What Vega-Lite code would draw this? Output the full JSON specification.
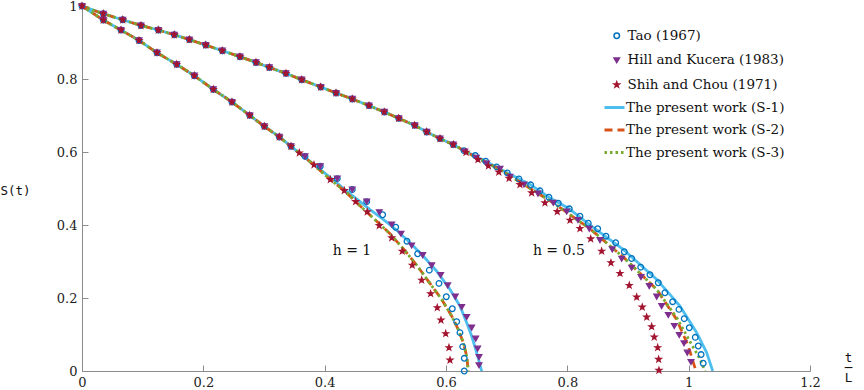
{
  "$schema": "https://vega.github.io/schema/vega-lite/v6.json",
  "autosize": {"type": "none"},
  "width": 728,
  "height": 365,
  "padding": {"left": 82, "top": 6, "right": 54, "bottom": 19},
  "background": "white",
  "config": {
    "view": {"stroke": null},
    "axis": {"grid": false, "domainColor": "#8c8c8c", "tickColor": "#8c8c8c", "domainWidth": 1, "tickWidth": 1, "tickSize": -6, "labelPadding": 11, "labelFont": "DejaVu Serif", "labelFontSize": 13, "labelColor": "#222222", "labelFlush": false, "titleFontWeight": "normal", "titleColor": "#111111"}
  },
  "datasets": {
    "pts": [
      {"s":"T","t":0,"S":1},{"s":"T","t":0.0351,"S":0.9787},{"s":"T","t":0.0671,"S":0.9622},{"s":"T","t":0.0972,"S":0.9466},{"s":"T","t":0.1258,"S":0.9341},{"s":"T","t":0.1521,"S":0.9212},{"s":"T","t":0.1769,"S":0.9079},{"s":"T","t":0.2039,"S":0.893},{"s":"T","t":0.2313,"S":0.8775},{"s":"T","t":0.2604,"S":0.8611},{"s":"T","t":0.2868,"S":0.8454},{"s":"T","t":0.3087,"S":0.8317},{"s":"T","t":0.3362,"S":0.8153},{"s":"T","t":0.3621,"S":0.7981},{"s":"T","t":0.3934,"S":0.7781},{"s":"T","t":0.4187,"S":0.7617},{"s":"T","t":0.4455,"S":0.7453},{"s":"T","t":0.4731,"S":0.727},{"s":"T","t":0.4983,"S":0.7097},{"s":"T","t":0.522,"S":0.6922},{"s":"T","t":0.5484,"S":0.673},{"s":"T","t":0.5682,"S":0.655},{"s":"T","t":0.5901,"S":0.6366},{"s":"T","t":0.612,"S":0.6202},
      {"s":"T","t":0.6296,"S":0.6038},{"s":"T","t":0.6483,"S":0.5902},{"s":"T","t":0.6654,"S":0.5746},{"s":"T","t":0.6835,"S":0.5592},{"s":"T","t":0.701,"S":0.5428},{"s":"T","t":0.7203,"S":0.5264},{"s":"T","t":0.7396,"S":0.51},{"s":"T","t":0.7549,"S":0.4936},{"s":"T","t":0.7697,"S":0.4761},{"s":"T","t":0.7851,"S":0.4596},{"s":"T","t":0.8032,"S":0.4443},{"s":"T","t":0.8208,"S":0.4241},{"s":"T","t":0.8345,"S":0.4049},{"s":"T","t":0.85,"S":0.3896},{"s":"T","t":0.8637,"S":0.3694},{"s":"T","t":0.8797,"S":0.3513},{"s":"T","t":0.8939,"S":0.3267},{"s":"T","t":0.906,"S":0.3083},{"s":"T","t":0.9209,"S":0.2845},{"s":"T","t":0.9362,"S":0.2637},{"s":"T","t":0.9499,"S":0.2419},{"s":"T","t":0.9609,"S":0.2145},{"s":"T","t":0.9736,"S":0.1899},{"s":"T","t":0.984,"S":0.1688},{"s":"T","t":0.9927,"S":0.1434},{"s":"T","t":1.001,"S":0.1187},{"s":"T","t":1.0109,"S":0.0922},{"s":"T","t":1.0158,"S":0.0684},{"s":"T","t":1.0205,"S":0.045},{"s":"T","t":1.024,"S":0.0211},
      {"s":"T","t":0.0351,"S":0.9614},{"s":"T","t":0.0643,"S":0.9341},{"s":"T","t":0.094,"S":0.9056},{"s":"T","t":0.1236,"S":0.872},{"s":"T","t":0.1561,"S":0.84},{"s":"T","t":0.1851,"S":0.8091},{"s":"T","t":0.2164,"S":0.7715},{"s":"T","t":0.2472,"S":0.737},{"s":"T","t":0.2764,"S":0.7004},{"s":"T","t":0.3005,"S":0.6703},{"s":"T","t":0.3252,"S":0.6413},{"s":"T","t":0.3445,"S":0.6156},
      {"s":"T","t":0.3676,"S":0.588},{"s":"T","t":0.3928,"S":0.561},{"s":"T","t":0.4208,"S":0.527},{"s":"T","t":0.4455,"S":0.497},{"s":"T","t":0.4693,"S":0.464},{"s":"T","t":0.4956,"S":0.428},{"s":"T","t":0.5171,"S":0.394},{"s":"T","t":0.5357,"S":0.3557},{"s":"T","t":0.5533,"S":0.3212},{"s":"T","t":0.5725,"S":0.2763},{"s":"T","t":0.5884,"S":0.24},{"s":"T","t":0.6005,"S":0.2036},{"s":"T","t":0.6104,"S":0.1707},{"s":"T","t":0.6176,"S":0.1352},{"s":"T","t":0.623,"S":0.1051},{"s":"T","t":0.6275,"S":0.0668},{"s":"T","t":0.6301,"S":0.0347},{"s":"T","t":0.6301,"S":0},

      {"s":"H","t":0,"S":1},{"s":"H","t":0.0351,"S":0.9787},{"s":"H","t":0.0671,"S":0.9622},{"s":"H","t":0.0972,"S":0.9466},{"s":"H","t":0.1258,"S":0.9341},{"s":"H","t":0.1521,"S":0.9212},{"s":"H","t":0.1769,"S":0.9079},{"s":"H","t":0.2039,"S":0.893},{"s":"H","t":0.2313,"S":0.8775},{"s":"H","t":0.2604,"S":0.8611},{"s":"H","t":0.2868,"S":0.8454},{"s":"H","t":0.3087,"S":0.8317},{"s":"H","t":0.3362,"S":0.8153},{"s":"H","t":0.3621,"S":0.7981},{"s":"H","t":0.3934,"S":0.7781},{"s":"H","t":0.4187,"S":0.7617},{"s":"H","t":0.4455,"S":0.7453},{"s":"H","t":0.4731,"S":0.727},{"s":"H","t":0.4983,"S":0.7097},{"s":"H","t":0.522,"S":0.6922},{"s":"H","t":0.5484,"S":0.673},{"s":"H","t":0.5682,"S":0.655},{"s":"H","t":0.5901,"S":0.6366},{"s":"H","t":0.612,"S":0.6202},
      {"s":"H","t":0.631,"S":0.601},{"s":"H","t":0.65,"S":0.584},{"s":"H","t":0.667,"S":0.568},{"s":"H","t":0.689,"S":0.5538},{"s":"H","t":0.7055,"S":0.5319},{"s":"H","t":0.7285,"S":0.5108},{"s":"H","t":0.7516,"S":0.4857},{"s":"H","t":0.7768,"S":0.4607},{"s":"H","t":0.7989,"S":0.4369},{"s":"H","t":0.8175,"S":0.4137},{"s":"H","t":0.8362,"S":0.3896},{"s":"H","t":0.8538,"S":0.3584},{"s":"H","t":0.8741,"S":0.333},{"s":"H","t":0.8896,"S":0.3075},{"s":"H","t":0.906,"S":0.2829},{"s":"H","t":0.9214,"S":0.2572},{"s":"H","t":0.9351,"S":0.2326},{"s":"H","t":0.9473,"S":0.2036},{"s":"H","t":0.9555,"S":0.1778},{"s":"H","t":0.9664,"S":0.1532},{"s":"H","t":0.9763,"S":0.1231},{"s":"H","t":0.9845,"S":0.0985},{"s":"H","t":0.9923,"S":0.0758},{"s":"H","t":0.9977,"S":0.0503},{"s":"H","t":1.0038,"S":0.0246},
      {"s":"H","t":0.0351,"S":0.9614},{"s":"H","t":0.0643,"S":0.9341},{"s":"H","t":0.094,"S":0.9056},{"s":"H","t":0.1236,"S":0.872},{"s":"H","t":0.1561,"S":0.84},{"s":"H","t":0.1851,"S":0.8091},{"s":"H","t":0.2164,"S":0.7715},{"s":"H","t":0.2472,"S":0.737},{"s":"H","t":0.2764,"S":0.7004},{"s":"H","t":0.3005,"S":0.6703},{"s":"H","t":0.3252,"S":0.6413},{"s":"H","t":0.3445,"S":0.6156},
      {"s":"H","t":0.3676,"S":0.588},{"s":"H","t":0.3928,"S":0.561},{"s":"H","t":0.4208,"S":0.527},{"s":"H","t":0.4455,"S":0.497},{"s":"H","t":0.4693,"S":0.464},{"s":"H","t":0.49,"S":0.435},{"s":"H","t":0.5105,"S":0.4014},{"s":"H","t":0.5258,"S":0.3759},{"s":"H","t":0.5434,"S":0.3439},{"s":"H","t":0.5616,"S":0.3174},{"s":"H","t":0.5764,"S":0.2892},{"s":"H","t":0.5912,"S":0.2627},{"s":"H","t":0.6028,"S":0.2345},{"s":"H","t":0.6153,"S":0.2036},{"s":"H","t":0.6259,"S":0.1751},{"s":"H","t":0.6341,"S":0.1477},{"s":"H","t":0.6423,"S":0.1187},{"s":"H","t":0.6489,"S":0.0886},{"s":"H","t":0.6522,"S":0.0613},{"s":"H","t":0.6544,"S":0.0383},{"s":"H","t":0.6544,"S":0.0156},

      {"s":"C","t":0,"S":1},{"s":"C","t":0.0351,"S":0.9787},{"s":"C","t":0.0671,"S":0.9622},{"s":"C","t":0.0972,"S":0.9466},{"s":"C","t":0.1258,"S":0.9341},{"s":"C","t":0.1521,"S":0.9212},{"s":"C","t":0.1769,"S":0.9079},{"s":"C","t":0.2039,"S":0.893},{"s":"C","t":0.2313,"S":0.8775},{"s":"C","t":0.2604,"S":0.8611},{"s":"C","t":0.2868,"S":0.8454},{"s":"C","t":0.3087,"S":0.8317},{"s":"C","t":0.3362,"S":0.8153},{"s":"C","t":0.3621,"S":0.7981},{"s":"C","t":0.3934,"S":0.7781},{"s":"C","t":0.4187,"S":0.7617},{"s":"C","t":0.4455,"S":0.7453},{"s":"C","t":0.4731,"S":0.727},{"s":"C","t":0.4983,"S":0.7097},{"s":"C","t":0.522,"S":0.6922},{"s":"C","t":0.5484,"S":0.673},{"s":"C","t":0.5682,"S":0.655},{"s":"C","t":0.5901,"S":0.6366},{"s":"C","t":0.612,"S":0.6202},
      {"s":"C","t":0.6329,"S":0.5992},{"s":"C","t":0.6527,"S":0.5792},{"s":"C","t":0.67,"S":0.562},{"s":"C","t":0.687,"S":0.545},{"s":"C","t":0.704,"S":0.528},{"s":"C","t":0.7219,"S":0.5108},{"s":"C","t":0.7412,"S":0.4881},{"s":"C","t":0.7631,"S":0.4607},{"s":"C","t":0.7834,"S":0.4369},{"s":"C","t":0.8044,"S":0.4131},{"s":"C","t":0.8208,"S":0.3904},{"s":"C","t":0.8385,"S":0.3622},{"s":"C","t":0.8566,"S":0.3283},{"s":"C","t":0.8719,"S":0.2966},{"s":"C","t":0.8868,"S":0.2673},{"s":"C","t":0.9021,"S":0.2345},{"s":"C","t":0.9143,"S":0.2025},{"s":"C","t":0.9235,"S":0.1751},{"s":"C","t":0.9308,"S":0.1477},{"s":"C","t":0.939,"S":0.1215},{"s":"C","t":0.9433,"S":0.093},{"s":"C","t":0.9489,"S":0.064},{"s":"C","t":0.9505,"S":0.032},{"s":"C","t":0.951,"S":0.002},
      {"s":"C","t":0.0351,"S":0.9614},{"s":"C","t":0.0643,"S":0.9341},{"s":"C","t":0.094,"S":0.9056},{"s":"C","t":0.1236,"S":0.872},{"s":"C","t":0.1561,"S":0.84},{"s":"C","t":0.1851,"S":0.8091},{"s":"C","t":0.2164,"S":0.7715},{"s":"C","t":0.2472,"S":0.737},{"s":"C","t":0.2764,"S":0.7004},{"s":"C","t":0.3005,"S":0.6703},{"s":"C","t":0.3252,"S":0.6413},{"s":"C","t":0.3445,"S":0.6156},
      {"s":"C","t":0.3582,"S":0.5975},{"s":"C","t":0.3824,"S":0.5647},{"s":"C","t":0.4093,"S":0.5245},{"s":"C","t":0.4323,"S":0.4944},{"s":"C","t":0.4511,"S":0.4643},{"s":"C","t":0.4702,"S":0.4361},{"s":"C","t":0.49,"S":0.3986},{"s":"C","t":0.5105,"S":0.365},{"s":"C","t":0.5279,"S":0.3283},{"s":"C","t":0.5444,"S":0.29},{"s":"C","t":0.5599,"S":0.249},{"s":"C","t":0.5747,"S":0.2118},{"s":"C","t":0.5856,"S":0.1735},{"s":"C","t":0.5917,"S":0.1395},{"s":"C","t":0.5995,"S":0.1023},{"s":"C","t":0.6049,"S":0.064},{"s":"C","t":0.6066,"S":0.03}
    ],
    "lns": [
      {"s":"S-1","h":"a","t":0,"S":1},{"s":"S-1","h":"a","t":0.0351,"S":0.9787},{"s":"S-1","h":"a","t":0.0671,"S":0.9622},{"s":"S-1","h":"a","t":0.0972,"S":0.9466},{"s":"S-1","h":"a","t":0.1258,"S":0.9341},{"s":"S-1","h":"a","t":0.1521,"S":0.9212},{"s":"S-1","h":"a","t":0.1769,"S":0.9079},{"s":"S-1","h":"a","t":0.2039,"S":0.893},{"s":"S-1","h":"a","t":0.2313,"S":0.8775},{"s":"S-1","h":"a","t":0.2604,"S":0.8611},{"s":"S-1","h":"a","t":0.2868,"S":0.8454},{"s":"S-1","h":"a","t":0.3087,"S":0.8317},{"s":"S-1","h":"a","t":0.3362,"S":0.8153},{"s":"S-1","h":"a","t":0.3621,"S":0.7981},{"s":"S-1","h":"a","t":0.3934,"S":0.7781},{"s":"S-1","h":"a","t":0.4187,"S":0.7617},{"s":"S-1","h":"a","t":0.4455,"S":0.7453},{"s":"S-1","h":"a","t":0.4731,"S":0.727},{"s":"S-1","h":"a","t":0.4983,"S":0.7097},{"s":"S-1","h":"a","t":0.522,"S":0.6922},{"s":"S-1","h":"a","t":0.5484,"S":0.673},{"s":"S-1","h":"a","t":0.5682,"S":0.655},{"s":"S-1","h":"a","t":0.5901,"S":0.6366},{"s":"S-1","h":"a","t":0.612,"S":0.6202},
      {"s":"S-1","h":"a","t":0.6296,"S":0.6038},{"s":"S-1","h":"a","t":0.6654,"S":0.5746},{"s":"S-1","h":"a","t":0.701,"S":0.5428},{"s":"S-1","h":"a","t":0.7396,"S":0.51},{"s":"S-1","h":"a","t":0.7697,"S":0.4761},{"s":"S-1","h":"a","t":0.8032,"S":0.4443},{"s":"S-1","h":"a","t":0.8373,"S":0.4},{"s":"S-1","h":"a","t":0.8922,"S":0.333},{"s":"S-1","h":"a","t":0.9473,"S":0.2509},{"s":"S-1","h":"a","t":0.9857,"S":0.1778},{"s":"S-1","h":"a","t":1.0132,"S":0.1051},{"s":"S-1","h":"a","t":1.0297,"S":0.0503},{"s":"S-1","h":"a","t":1.0396,"S":0},
      {"s":"S-1","h":"b","t":0,"S":1},{"s":"S-1","h":"b","t":0.0351,"S":0.9614},{"s":"S-1","h":"b","t":0.0643,"S":0.9341},{"s":"S-1","h":"b","t":0.094,"S":0.9056},{"s":"S-1","h":"b","t":0.1236,"S":0.872},{"s":"S-1","h":"b","t":0.1561,"S":0.84},{"s":"S-1","h":"b","t":0.1851,"S":0.8091},{"s":"S-1","h":"b","t":0.2164,"S":0.7715},{"s":"S-1","h":"b","t":0.2472,"S":0.737},{"s":"S-1","h":"b","t":0.2764,"S":0.7004},{"s":"S-1","h":"b","t":0.3005,"S":0.6703},{"s":"S-1","h":"b","t":0.3252,"S":0.6413},{"s":"S-1","h":"b","t":0.3445,"S":0.6156},
      {"s":"S-1","h":"b","t":0.362,"S":0.592},{"s":"S-1","h":"b","t":0.386,"S":0.561},{"s":"S-1","h":"b","t":0.41,"S":0.529},{"s":"S-1","h":"b","t":0.434,"S":0.496},{"s":"S-1","h":"b","t":0.4747,"S":0.4424},{"s":"S-1","h":"b","t":0.4967,"S":0.4151},{"s":"S-1","h":"b","t":0.5187,"S":0.3858},{"s":"S-1","h":"b","t":0.5406,"S":0.3513},{"s":"S-1","h":"b","t":0.5626,"S":0.3146},{"s":"S-1","h":"b","t":0.5846,"S":0.2736},{"s":"S-1","h":"b","t":0.6066,"S":0.2235},{"s":"S-1","h":"b","t":0.6231,"S":0.1778},{"s":"S-1","h":"b","t":0.6341,"S":0.1323},{"s":"S-1","h":"b","t":0.6423,"S":0.0958},{"s":"S-1","h":"b","t":0.6505,"S":0.0506},{"s":"S-1","h":"b","t":0.6588,"S":0},

      {"s":"S-2","h":"a","t":0,"S":1},{"s":"S-2","h":"a","t":0.0351,"S":0.9787},{"s":"S-2","h":"a","t":0.0671,"S":0.9622},{"s":"S-2","h":"a","t":0.0972,"S":0.9466},{"s":"S-2","h":"a","t":0.1258,"S":0.9341},{"s":"S-2","h":"a","t":0.1521,"S":0.9212},{"s":"S-2","h":"a","t":0.1769,"S":0.9079},{"s":"S-2","h":"a","t":0.2039,"S":0.893},{"s":"S-2","h":"a","t":0.2313,"S":0.8775},{"s":"S-2","h":"a","t":0.2604,"S":0.8611},{"s":"S-2","h":"a","t":0.2868,"S":0.8454},{"s":"S-2","h":"a","t":0.3087,"S":0.8317},{"s":"S-2","h":"a","t":0.3362,"S":0.8153},{"s":"S-2","h":"a","t":0.3621,"S":0.7981},{"s":"S-2","h":"a","t":0.3934,"S":0.7781},{"s":"S-2","h":"a","t":0.4187,"S":0.7617},{"s":"S-2","h":"a","t":0.4455,"S":0.7453},{"s":"S-2","h":"a","t":0.4731,"S":0.727},{"s":"S-2","h":"a","t":0.4983,"S":0.7097},{"s":"S-2","h":"a","t":0.522,"S":0.6922},{"s":"S-2","h":"a","t":0.5484,"S":0.673},{"s":"S-2","h":"a","t":0.5682,"S":0.655},{"s":"S-2","h":"a","t":0.5901,"S":0.6366},{"s":"S-2","h":"a","t":0.612,"S":0.6202},
      {"s":"S-2","h":"a","t":0.65,"S":0.585},{"s":"S-2","h":"a","t":0.689,"S":0.5518},{"s":"S-2","h":"a","t":0.7285,"S":0.5108},{"s":"S-2","h":"a","t":0.7768,"S":0.4607},{"s":"S-2","h":"a","t":0.8373,"S":0.3896},{"s":"S-2","h":"a","t":0.8922,"S":0.312},{"s":"S-2","h":"a","t":0.9473,"S":0.2235},{"s":"S-2","h":"a","t":0.9802,"S":0.1415},{"s":"S-2","h":"a","t":0.9993,"S":0.0684},{"s":"S-2","h":"a","t":1.012,"S":0},
      {"s":"S-2","h":"b","t":0,"S":1},{"s":"S-2","h":"b","t":0.0351,"S":0.9614},{"s":"S-2","h":"b","t":0.0643,"S":0.9341},{"s":"S-2","h":"b","t":0.094,"S":0.9056},{"s":"S-2","h":"b","t":0.1236,"S":0.872},{"s":"S-2","h":"b","t":0.1561,"S":0.84},{"s":"S-2","h":"b","t":0.1851,"S":0.8091},{"s":"S-2","h":"b","t":0.2164,"S":0.7715},{"s":"S-2","h":"b","t":0.2472,"S":0.737},{"s":"S-2","h":"b","t":0.2764,"S":0.7004},{"s":"S-2","h":"b","t":0.3005,"S":0.6703},{"s":"S-2","h":"b","t":0.3252,"S":0.6413},{"s":"S-2","h":"b","t":0.3445,"S":0.6156},
      {"s":"S-2","h":"b","t":0.3582,"S":0.5975},{"s":"S-2","h":"b","t":0.3824,"S":0.5647},{"s":"S-2","h":"b","t":0.4093,"S":0.5245},{"s":"S-2","h":"b","t":0.4323,"S":0.4944},{"s":"S-2","h":"b","t":0.4511,"S":0.4643},{"s":"S-2","h":"b","t":0.4702,"S":0.434},{"s":"S-2","h":"b","t":0.4912,"S":0.402},{"s":"S-2","h":"b","t":0.5077,"S":0.376},{"s":"S-2","h":"b","t":0.5296,"S":0.335},{"s":"S-2","h":"b","t":0.5517,"S":0.29},{"s":"S-2","h":"b","t":0.5736,"S":0.24},{"s":"S-2","h":"b","t":0.5929,"S":0.1962},{"s":"S-2","h":"b","t":0.6094,"S":0.1505},{"s":"S-2","h":"b","t":0.6202,"S":0.1141},{"s":"S-2","h":"b","t":0.6285,"S":0.0777},{"s":"S-2","h":"b","t":0.6341,"S":0.041},{"s":"S-2","h":"b","t":0.6367,"S":0},

      {"s":"S-3","h":"a","t":0,"S":1},{"s":"S-3","h":"a","t":0.0351,"S":0.9787},{"s":"S-3","h":"a","t":0.0671,"S":0.9622},{"s":"S-3","h":"a","t":0.0972,"S":0.9466},{"s":"S-3","h":"a","t":0.1258,"S":0.9341},{"s":"S-3","h":"a","t":0.1521,"S":0.9212},{"s":"S-3","h":"a","t":0.1769,"S":0.9079},{"s":"S-3","h":"a","t":0.2039,"S":0.893},{"s":"S-3","h":"a","t":0.2313,"S":0.8775},{"s":"S-3","h":"a","t":0.2604,"S":0.8611},{"s":"S-3","h":"a","t":0.2868,"S":0.8454},{"s":"S-3","h":"a","t":0.3087,"S":0.8317},{"s":"S-3","h":"a","t":0.3362,"S":0.8153},{"s":"S-3","h":"a","t":0.3621,"S":0.7981},{"s":"S-3","h":"a","t":0.3934,"S":0.7781},{"s":"S-3","h":"a","t":0.4187,"S":0.7617},{"s":"S-3","h":"a","t":0.4455,"S":0.7453},{"s":"S-3","h":"a","t":0.4731,"S":0.727},{"s":"S-3","h":"a","t":0.4983,"S":0.7097},{"s":"S-3","h":"a","t":0.522,"S":0.6922},{"s":"S-3","h":"a","t":0.5484,"S":0.673},{"s":"S-3","h":"a","t":0.5682,"S":0.655},{"s":"S-3","h":"a","t":0.5901,"S":0.6366},{"s":"S-3","h":"a","t":0.612,"S":0.6202},
      {"s":"S-3","h":"a","t":0.65,"S":0.585},{"s":"S-3","h":"a","t":0.689,"S":0.5518},{"s":"S-3","h":"a","t":0.7285,"S":0.5108},{"s":"S-3","h":"a","t":0.7768,"S":0.4607},{"s":"S-3","h":"a","t":0.8373,"S":0.3896},{"s":"S-3","h":"a","t":0.8922,"S":0.312},{"s":"S-3","h":"a","t":0.9473,"S":0.2235},{"s":"S-3","h":"a","t":0.982,"S":0.1415},{"s":"S-3","h":"a","t":1.004,"S":0.075},{"s":"S-3","h":"a","t":1.018,"S":0.035},{"s":"S-3","h":"a","t":1.027,"S":0},
      {"s":"S-3","h":"b","t":0,"S":1},{"s":"S-3","h":"b","t":0.0351,"S":0.9614},{"s":"S-3","h":"b","t":0.0643,"S":0.9341},{"s":"S-3","h":"b","t":0.094,"S":0.9056},{"s":"S-3","h":"b","t":0.1236,"S":0.872},{"s":"S-3","h":"b","t":0.1561,"S":0.84},{"s":"S-3","h":"b","t":0.1851,"S":0.8091},{"s":"S-3","h":"b","t":0.2164,"S":0.7715},{"s":"S-3","h":"b","t":0.2472,"S":0.737},{"s":"S-3","h":"b","t":0.2764,"S":0.7004},{"s":"S-3","h":"b","t":0.3005,"S":0.6703},{"s":"S-3","h":"b","t":0.3252,"S":0.6413},{"s":"S-3","h":"b","t":0.3445,"S":0.6156},
      {"s":"S-3","h":"b","t":0.3582,"S":0.5975},{"s":"S-3","h":"b","t":0.3824,"S":0.5647},{"s":"S-3","h":"b","t":0.4093,"S":0.5245},{"s":"S-3","h":"b","t":0.4323,"S":0.4944},{"s":"S-3","h":"b","t":0.4511,"S":0.4643},{"s":"S-3","h":"b","t":0.4702,"S":0.434},{"s":"S-3","h":"b","t":0.4912,"S":0.402},{"s":"S-3","h":"b","t":0.5077,"S":0.376},{"s":"S-3","h":"b","t":0.5296,"S":0.335},{"s":"S-3","h":"b","t":0.5517,"S":0.29},{"s":"S-3","h":"b","t":0.5736,"S":0.24},{"s":"S-3","h":"b","t":0.5929,"S":0.1962},{"s":"S-3","h":"b","t":0.6094,"S":0.1505},{"s":"S-3","h":"b","t":0.6202,"S":0.1141},{"s":"S-3","h":"b","t":0.6285,"S":0.0777},{"s":"S-3","h":"b","t":0.6341,"S":0.041},{"s":"S-3","h":"b","t":0.6367,"S":0}
    ],
    "lbl": [
      {"t":0.445,"S":0.3275,"txt":"h = 1"},
      {"t":0.786,"S":0.3275,"txt":"h = 0.5"}
    ]
  },
  "encoding": {
    "x": {"field":"t","type":"quantitative","scale":{"domain":[0,1.2],"nice":false,"zero":false},
      "axis":{"values":[0,0.2,0.4,0.6,0.8,1,1.2],"format":"~g","title":["t","─","L"],"titleFont":"DejaVu Sans Mono","titleFontSize":12.5,"titleX":766,"titleY":-14,"titleAlign":"center","titleBaseline":"middle","titleLineHeight":10,"titleAngle":0}},
    "y": {"field":"S","type":"quantitative","scale":{"domain":[0,1],"nice":false,"zero":false},
      "axis":{"values":[0,0.2,0.4,0.6,0.8,1],"format":"~g","title":"S(t)","titleFont":"DejaVu Sans Mono","titleFontSize":12.5,"titleAngle":0,"titleX":-67,"titleY":184,"titleAlign":"center","titleBaseline":"middle"}}
  },
  "layer": [
    {
      "data": {"name": "lns"},
      "mark": {"type": "line", "strokeWidth": 2.8, "clip": true},
      "encoding": {
        "detail": {"field": "h"},
        "color": {"field":"s","type":"nominal","scale":{"domain":["S-1","S-2","S-3"],"range":["#4DBEEE","#D95319","#77AC30"]},
          "legend":{"orient":"none","legendX":521,"legendY":90,"title":null,"padding":0,"symbolSize":400,"symbolStrokeWidth":2.8,"labelOffset":0,"rowPadding":4.5,"labelFont":"DejaVu Serif","labelFontSize":13.5,"labelColor":"#111111","labelLimit":300,"labelExpr":"'The present work (' + datum.label + ')'"}},
        "strokeDash": {"field":"s","type":"nominal","scale":{"domain":["S-1","S-2","S-3"],"range":[[1,0],[8,5],[2.5,3]]},
          "legend":{"orient":"none","legendX":521,"legendY":90,"title":null,"padding":0,"symbolSize":400,"symbolStrokeWidth":2.8,"labelOffset":0,"rowPadding":4.5,"labelFont":"DejaVu Serif","labelFontSize":13.5,"labelColor":"#111111","labelLimit":300,"labelExpr":"'The present work (' + datum.label + ')'"}}
      }
    },
    {
      "data": {"name": "pts"},
      "mark": {"type": "point", "size": 32, "strokeWidth": 1.3, "opacity": 1},
      "encoding": {
        "shape": {"field":"s","type":"nominal","scale":{"domain":["T","H","C"],"range":["circle","triangle-down","M0,-1L0.235,-0.324L0.951,-0.309L0.38,0.124L0.588,0.809L0,0.4L-0.588,0.809L-0.38,0.124L-0.951,-0.309L-0.235,-0.324Z"]},
          "legend":{"orient":"none","legendX":528,"legendY":23,"title":null,"padding":0,"symbolSize":30,"labelOffset":4,"rowPadding":9.5,"labelFont":"DejaVu Serif","labelFontSize":13.5,"labelColor":"#111111","labelLimit":300,"labelExpr":"datum.label == 'T' ? 'Tao (1967)' : datum.label == 'H' ? 'Hill and Kucera (1983)' : 'Shih and Chou (1971)'"}},
        "stroke": {"field":"s","type":"nominal","scale":{"domain":["T","H","C"],"range":["#0072BD","#7E2F8E","#A2142F"]},
          "legend":{"orient":"none","legendX":528,"legendY":23,"title":null,"padding":0,"symbolSize":30,"labelOffset":4,"rowPadding":9.5,"labelFont":"DejaVu Serif","labelFontSize":13.5,"labelColor":"#111111","labelLimit":300,"labelExpr":"datum.label == 'T' ? 'Tao (1967)' : datum.label == 'H' ? 'Hill and Kucera (1983)' : 'Shih and Chou (1971)'"}},
        "fill": {"field":"s","type":"nominal","scale":{"domain":["T","H","C"],"range":["transparent","#7E2F8E","#A2142F"]},
          "legend":{"orient":"none","legendX":528,"legendY":23,"title":null,"padding":0,"symbolSize":30,"labelOffset":4,"rowPadding":9.5,"labelFont":"DejaVu Serif","labelFontSize":13.5,"labelColor":"#111111","labelLimit":300,"labelExpr":"datum.label == 'T' ? 'Tao (1967)' : datum.label == 'H' ? 'Hill and Kucera (1983)' : 'Shih and Chou (1971)'"}}
      }
    },
    {
      "data": {"name": "lbl"},
      "mark": {"type": "text", "font": "DejaVu Serif", "fontSize": 14, "color": "#111111", "align": "center", "baseline": "middle"},
      "encoding": {"text": {"field": "txt"}}
    }
  ]
}
